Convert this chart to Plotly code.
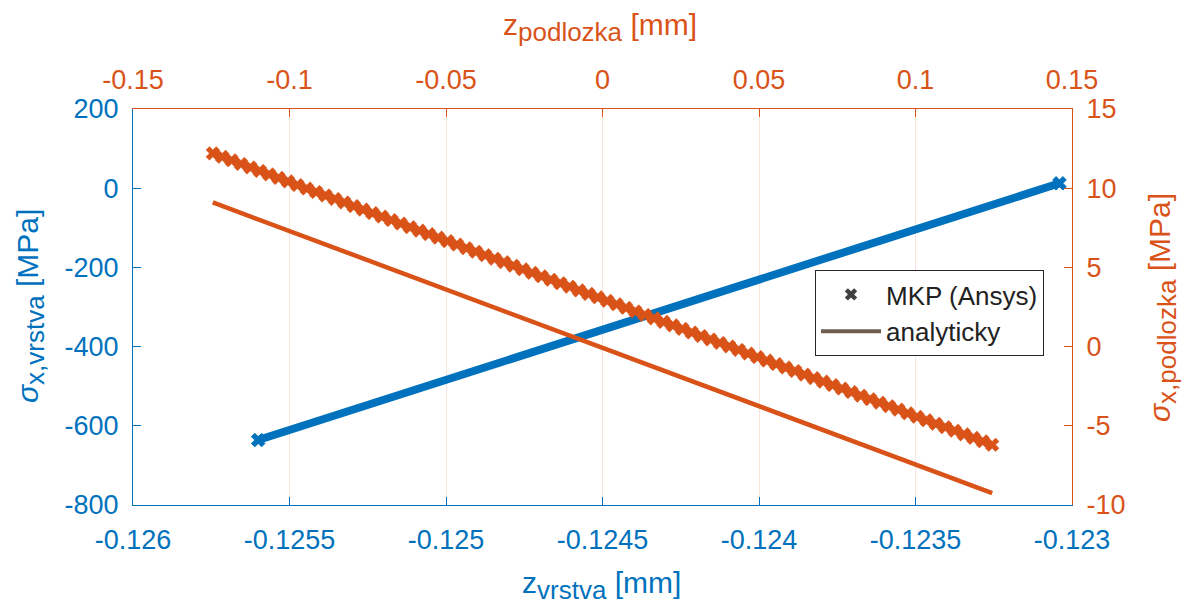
import plotly.graph_objects as go

# ---------------- data ----------------
# layer (vrstva): FEM nodes, bottom/left axes
z_vrstva = [-0.12560, -0.12552, -0.12544, -0.12536, -0.12528, -0.12520, -0.12512, -0.12504,
            -0.12496, -0.12488, -0.12480, -0.12472, -0.12464, -0.12456, -0.12448, -0.12440,
            -0.12432, -0.12424, -0.12416, -0.12408, -0.12400, -0.12392, -0.12384, -0.12376,
            -0.12368, -0.12360, -0.12352, -0.12344, -0.12336, -0.12328, -0.12320, -0.12312,
            -0.12304]
sx_vrstva_mkp = [-636.0, -615.7, -595.5, -575.2, -555.0, -534.7, -514.4, -494.2,
                 -473.9, -453.6, -433.4, -413.1, -392.8, -372.6, -352.3, -332.1,
                 -311.8, -291.5, -271.3, -251.0, -230.7, -210.5, -190.2, -170.0,
                 -149.7, -129.4, -109.2, -88.9, -68.6, -48.4, -28.1, -7.9,
                 12.4]
z_vrstva_an = [-0.12560, -0.12304]
sx_vrstva_an = [-636.0, 12.4]

# substrate (podlozka): FEM nodes, top/right axes
z_podlozka = [-0.1245, -0.1215, -0.1185, -0.1155, -0.1125, -0.1095, -0.1065, -0.1035, -0.1005, -0.0975,
              -0.0945, -0.0915, -0.0885, -0.0855, -0.0825, -0.0795, -0.0765, -0.0735, -0.0705, -0.0675,
              -0.0645, -0.0615, -0.0585, -0.0555, -0.0525, -0.0495, -0.0465, -0.0435, -0.0405, -0.0375,
              -0.0345, -0.0315, -0.0285, -0.0255, -0.0225, -0.0195, -0.0165, -0.0135, -0.0105, -0.0075,
              -0.0045, -0.0015, 0.0015, 0.0045, 0.0075, 0.0105, 0.0135, 0.0165, 0.0195, 0.0225,
              0.0255, 0.0285, 0.0315, 0.0345, 0.0375, 0.0405, 0.0435, 0.0465, 0.0495, 0.0525,
              0.0555, 0.0585, 0.0615, 0.0645, 0.0675, 0.0705, 0.0735, 0.0765, 0.0795, 0.0825,
              0.0855, 0.0885, 0.0915, 0.0945, 0.0975, 0.1005, 0.1035, 0.1065, 0.1095, 0.1125,
              0.1155, 0.1185, 0.1215, 0.1245]
sx_podlozka_mkp = [12.20, 11.98, 11.76, 11.53, 11.31, 11.09, 10.87, 10.65, 10.43, 10.20,
                   9.98, 9.76, 9.54, 9.32, 9.10, 8.87, 8.65, 8.43, 8.21, 7.99,
                   7.77, 7.54, 7.32, 7.10, 6.88, 6.66, 6.44, 6.21, 5.99, 5.77,
                   5.55, 5.33, 5.11, 4.88, 4.66, 4.44, 4.22, 4.00, 3.78, 3.55,
                   3.33, 3.11, 2.89, 2.67, 2.45, 2.22, 2.00, 1.78, 1.56, 1.34,
                   1.12, 0.89, 0.67, 0.45, 0.23, 0.01, -0.21, -0.44, -0.66, -0.88,
                   -1.10, -1.32, -1.54, -1.77, -1.99, -2.21, -2.43, -2.65, -2.87, -3.10,
                   -3.32, -3.54, -3.76, -3.98, -4.21, -4.43, -4.65, -4.87, -5.09, -5.31,
                   -5.54, -5.76, -5.98, -6.20]
z_podlozka_an = [-0.1245, 0.1245]
sx_podlozka_an = [9.10, -9.25]

# ticks
xb_ticks = [-0.126, -0.1255, -0.125, -0.1245, -0.124, -0.1235, -0.123]
xb_text = ["-0.126", "-0.1255", "-0.125", "-0.1245", "-0.124", "-0.1235", "-0.123"]
xt_ticks = [-0.15, -0.1, -0.05, 0, 0.05, 0.1, 0.15]
xt_text = ["-0.15", "-0.1", "-0.05", "0", "0.05", "0.1", "0.15"]
yl_ticks = [-800, -600, -400, -200, 0, 200]
yl_text = ["-800", "-600", "-400", "-200", "0", "200"]
yr_ticks = [-10, -5, 0, 5, 10, 15]
yr_text = ["-10", "-5", "0", "5", "10", "15"]

legend_names = ["MKP (Ansys)", "analyticky"]

# ---------------- style ----------------
BLUE = "#0072BD"
ORANGE = "#D95319"
FONT = "Liberation Sans, Arial, sans-serif"
W, H = 1185, 606
L, R, T, B = 133, 113, 109, 101


def px_x(p):
    return (p - L) / (W - L - R)


def px_y(p):
    return 1 - (p - T) / (H - T - B)


fig = go.Figure()

# blue analytic line (under the FEM band)
fig.add_trace(go.Scatter(x=z_vrstva_an, y=sx_vrstva_an, mode="lines",
                         line=dict(color=BLUE, width=3), showlegend=False,
                         xaxis="x", yaxis="y"))
# blue FEM nodes (dense -> continuous band, node crosses visible at the ends)
n_b = len(z_vrstva)
fig.add_trace(go.Scatter(x=z_vrstva, y=sx_vrstva_mkp, mode="lines+markers",
                         line=dict(color=BLUE, width=8),
                         marker=dict(symbol="x", color=BLUE, opacity=1,
                                     size=[12] + [3] * (n_b - 2) + [12],
                                     line=dict(width=1, color=BLUE)),
                         showlegend=False, xaxis="x", yaxis="y"))
# orange analytic
fig.add_trace(go.Scatter(x=z_podlozka_an, y=sx_podlozka_an, mode="lines",
                         line=dict(color=ORANGE, width=4.5), showlegend=False,
                         xaxis="x2", yaxis="y2"))
# orange FEM
fig.add_trace(go.Scatter(x=z_podlozka, y=sx_podlozka_mkp, mode="markers",
                         marker=dict(symbol="x", color=ORANGE, size=12, opacity=1,
                                     line=dict(width=0.5, color=ORANGE)),
                         showlegend=False, xaxis="x2", yaxis="y2"))

# legend dummies
fig.add_trace(go.Scatter(x=[None], y=[None], mode="markers", name=legend_names[0],
                         marker=dict(symbol="x", color="#404040", size=11, line=dict(width=0)),
                         xaxis="x", yaxis="y"))
fig.add_trace(go.Scatter(x=[None], y=[None], mode="lines", name=legend_names[1],
                         line=dict(color="#715C50", width=4),
                         xaxis="x", yaxis="y"))

tickfont_b = dict(family=FONT, size=27, color=BLUE)
tickfont_o = dict(family=FONT, size=27, color=ORANGE)

fig.update_layout(
    width=W, height=H,
    margin=dict(l=L, r=R, t=T, b=B, pad=0),
    paper_bgcolor="white", plot_bgcolor="white",
    font=dict(family=FONT),
    xaxis=dict(range=[-0.126, -0.123], tickvals=xb_ticks, ticktext=xb_text,
               tickfont=tickfont_b, showline=True, linecolor=BLUE, linewidth=1.2,
               ticks="inside", ticklen=8, tickcolor=BLUE, tickwidth=1,
               showgrid=False, zeroline=False, mirror=False, domain=[0, 1],
               ticklabelstandoff=10),
    yaxis=dict(range=[-800, 200], tickvals=yl_ticks, ticktext=yl_text,
               tickfont=tickfont_b, showline=True, linecolor=BLUE, linewidth=1.2,
               ticks="inside", ticklen=8, tickcolor=BLUE, tickwidth=1,
               showgrid=False, zeroline=False, domain=[0, 1],
               ticklabelstandoff=8),
    xaxis2=dict(range=[-0.15, 0.15], tickvals=xt_ticks, ticktext=xt_text,
                tickfont=tickfont_o, overlaying="x", side="top", anchor="y2",
                showline=True, linecolor=ORANGE, linewidth=1.2,
                ticks="inside", ticklen=8, tickcolor=ORANGE, tickwidth=1,
                showgrid=True, gridcolor="#F9E3DA", gridwidth=1,
                zeroline=False, ticklabelstandoff=8),
    yaxis2=dict(range=[-10, 15], tickvals=yr_ticks, ticktext=yr_text,
                tickfont=tickfont_o, overlaying="y", side="right", anchor="x2",
                showline=True, linecolor=ORANGE, linewidth=1.2,
                ticks="inside", ticklen=8, tickcolor=ORANGE, tickwidth=1,
                showgrid=False, zeroline=False, ticklabelstandoff=8),
    legend=dict(x=px_x(815), y=px_y(270), xanchor="left", yanchor="top",
                bgcolor="white", bordercolor="#262626", borderwidth=1,
                font=dict(family=FONT, size=26, color="#222222"),
                itemwidth=60, tracegroupgap=0),
    showlegend=True,
)

SUB = "<sub><span style='font-size:26px'>{}</span></sub>"
annots = [
    dict(text="z" + SUB.format("vrstva") + " [mm]", x=px_x(601), y=px_y(564),
         xanchor="center", yanchor="top", font=dict(family=FONT, size=30, color=BLUE)),
    dict(text="z" + SUB.format("podlozka") + " [mm]", x=px_x(600), y=px_y(6),
         xanchor="center", yanchor="top", font=dict(family=FONT, size=30, color=ORANGE)),
    dict(text="<i>σ</i>" + SUB.format("x,vrstva") + " [MPa]", x=px_x(30), y=px_y(306),
         xanchor="center", yanchor="middle", textangle=-90,
         font=dict(family=FONT, size=30, color=BLUE)),
    dict(text="<i>σ</i>" + SUB.format("x,podlozka") + " [MPa]", x=px_x(1162), y=px_y(308),
         xanchor="center", yanchor="middle", textangle=-90,
         font=dict(family=FONT, size=30, color=ORANGE)),
]
for a in annots:
    a.update(xref="paper", yref="paper", showarrow=False)
fig.update_layout(annotations=annots)

fig.write_html("out.html")
